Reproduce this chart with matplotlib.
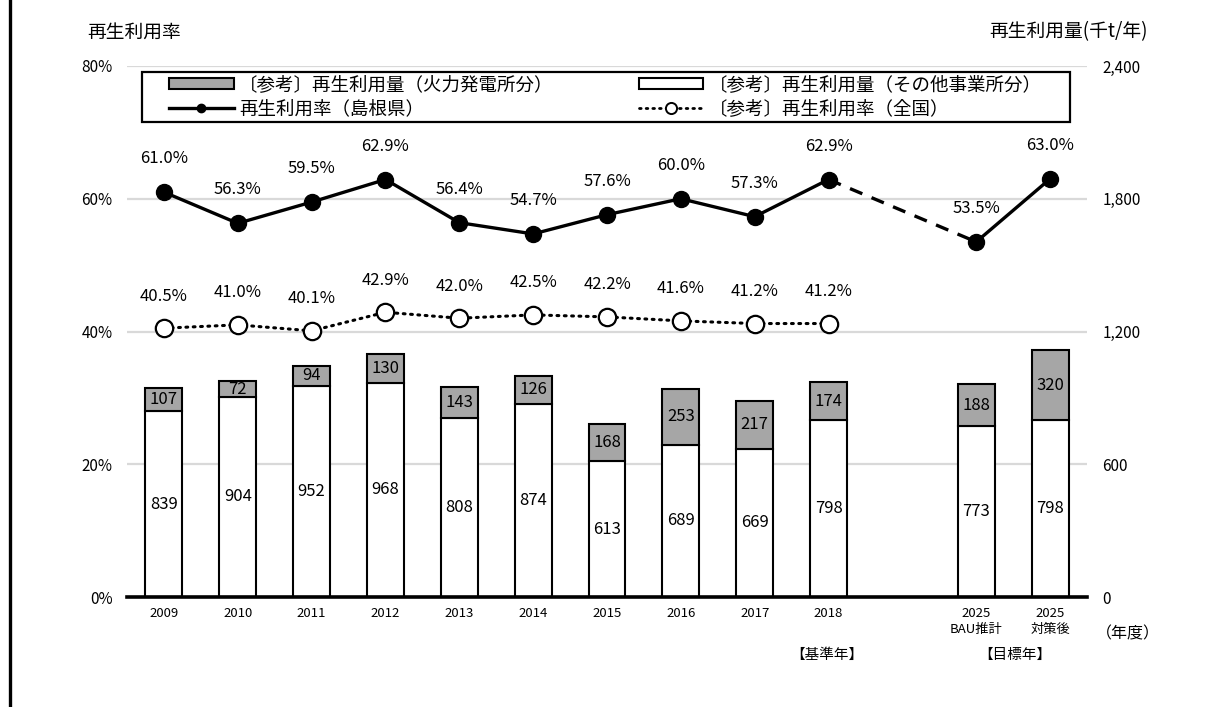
import matplotlib
matplotlib.use("Agg")
import matplotlib.pyplot as plt
from matplotlib.patches import Patch, Rectangle
from matplotlib.lines import Line2D

plt.rcParams['font.family'] = ['Noto Sans CJK JP', 'DejaVu Sans']

# ---- data ----
categories = ["2009", "2010", "2011", "2012", "2013", "2014", "2015", "2016",
              "2017", "2018", "2025\nBAU推計", "2025\n対策後"]
positions = [0, 1, 2, 3, 4, 5, 6, 7, 8, 9, 11, 12]
other_amount = [839, 904, 952, 968, 808, 874, 613, 689, 669, 798, 773, 798]
thermal_amount = [107, 72, 94, 130, 143, 126, 168, 253, 217, 174, 188, 320]
rate_shimane = [61.0, 56.3, 59.5, 62.9, 56.4, 54.7, 57.6, 60.0, 57.3, 62.9, 53.5, 63.0]
rate_national = [40.5, 41.0, 40.1, 42.9, 42.0, 42.5, 42.2, 41.6, 41.2, 41.2]
left_ticks = [0, 20, 40, 60, 80]
left_ticklabels = ["0%", "20%", "40%", "60%", "80%"]
right_ticks = [0, 600, 1200, 1800, 2400]
right_ticklabels = ["0", "600", "1,200", "1,800", "2,400"]

legend_labels = ["〔参考〕再生利用量（火力発電所分）", "再生利用率（島根県）",
                 "〔参考〕再生利用量（その他事業所分）", "〔参考〕再生利用率（全国）"]

GRAY = "#A6A6A6"
W, H = 1220, 707

fig = plt.figure(figsize=(W / 100, H / 100), dpi=100)
ax = fig.add_axes([127 / W, 110 / H, 960 / W, 531 / H])

# bars (right axis scale)
ax.set_ylim(0, 2400)
ax.set_xlim(-0.5, 12.5)
for y in right_ticks[1:]:
    ax.axhline(y, color="#D9D9D9", lw=1.6, zorder=0)
ax.bar(positions, other_amount, width=0.5, color="white", edgecolor="black", lw=1.5, zorder=2)
ax.bar(positions, thermal_amount, width=0.5, bottom=other_amount, color=GRAY,
       edgecolor="black", lw=1.5, zorder=2)
for p, o, t in zip(positions, other_amount, thermal_amount):
    ax.text(p, o / 2, f"{o}", ha="center", va="center", fontsize=12, zorder=3)
    ax.text(p, o + t / 2, f"{t}", ha="center", va="center", fontsize=12, zorder=3)

ax.set_xticks(positions)
ax.set_xticklabels(categories, fontsize=9.5, linespacing=1.35)
ax.tick_params(axis="x", length=0, pad=7)
for s in ["top", "left", "right"]:
    ax.spines[s].set_visible(False)
ax.spines["bottom"].set_linewidth(2.6)
ax.spines["bottom"].set_zorder(4)

# rates (left axis scale)
ax2 = ax.twinx()
ax2.set_ylim(0, 80)
for s in ["top", "left", "right", "bottom"]:
    ax2.spines[s].set_visible(False)

ax.yaxis.tick_right()
ax.set_yticks(right_ticks)
ax.set_yticklabels(right_ticklabels, fontsize=11)
ax.tick_params(axis="y", length=0, pad=11)

ax2.yaxis.tick_left()
ax2.set_yticks(left_ticks)
ax2.set_yticklabels(left_ticklabels, fontsize=11)
ax2.tick_params(axis="y", length=0, pad=10.5)

xs_n = positions[:len(rate_national)]
ax2.plot(xs_n, rate_national, color="black", lw=2.2, linestyle=(0, (0.6, 1.8)),
         dash_capstyle="round", marker="o", markersize=12.5, markerfacecolor="white",
         markeredgecolor="black", markeredgewidth=1.6, zorder=3)
ax2.plot(positions[:10], rate_shimane[:10], color="black", lw=2.4, zorder=3)
ax2.plot(positions[9:11], rate_shimane[9:11], color="black", lw=2.4,
         linestyle=(0, (4, 3)), zorder=3)
ax2.plot(positions[10:], rate_shimane[10:], color="black", lw=2.4, zorder=3)
ax2.plot(positions, rate_shimane, linestyle="none", marker="o", markersize=11.5,
         color="black", zorder=4)

for p, r in zip(positions, rate_shimane):
    ax2.annotate(f"{r:.1f}%", (p, r), xytext=(0, 24), textcoords="offset points",
                 ha="center", va="center", fontsize=12)
for p, r in zip(xs_n, rate_national):
    ax2.annotate(f"{r:.1f}%", (p, r), xytext=(0, 23), textcoords="offset points",
                 ha="center", va="center", fontsize=12)

# legend frame drawn separately
frame = Rectangle((142 / W, 1 - 122 / H), (1070 - 142) / W, 50 / H,
                  transform=fig.transFigure, facecolor="white", edgecolor="black",
                  lw=1.6, zorder=9)
fig.add_artist(frame)

handles = [
    Patch(facecolor=GRAY, edgecolor="black", lw=1.5),
    Line2D([], [], color="black", lw=2.4, marker="o", markersize=6),
    Patch(facecolor="white", edgecolor="black", lw=1.5),
    Line2D([], [], color="black", lw=2.0, linestyle=(0, (0.6, 1.8)), dash_capstyle="round",
           marker="o", markersize=8, markerfacecolor="white", markeredgecolor="black",
           markeredgewidth=1.4),
]
leg = fig.legend(handles, legend_labels, ncol=2, mode="expand", loc="center left",
                 bbox_to_anchor=(169 / W, 1 - 122 / H, (1042 - 169) / W, 50 / H),
                 bbox_transform=fig.transFigure, borderaxespad=0, fontsize=13.3,
                 handlelength=3.5, handleheight=0.5, handletextpad=0.3,
                 labelspacing=0.32, borderpad=0.0, frameon=False)
leg.set_zorder(10)

# titles and annotations
fig.text(87 / W, 1 - 32 / H, "再生利用率", fontsize=13.5, ha="left", va="center")
fig.text(1148 / W, 1 - 32 / H, "再生利用量(千t/年)", fontsize=13.5, ha="right", va="center")
fig.text(1128 / W, 1 - 634 / H, "（年度）", fontsize=11.5, ha="center", va="center")
fig.text(827 / W, 1 - 655 / H, "【基準年】", fontsize=10.5, ha="center", va="center")
fig.text(1015 / W, 1 - 655 / H, "【目標年】", fontsize=10.5, ha="center", va="center")

# left frame line
fig.add_artist(Line2D([10 / W, 10 / W], [0, 1], color="black", lw=2.4,
                      transform=fig.transFigure))

fig.savefig("out.png", dpi=100)
